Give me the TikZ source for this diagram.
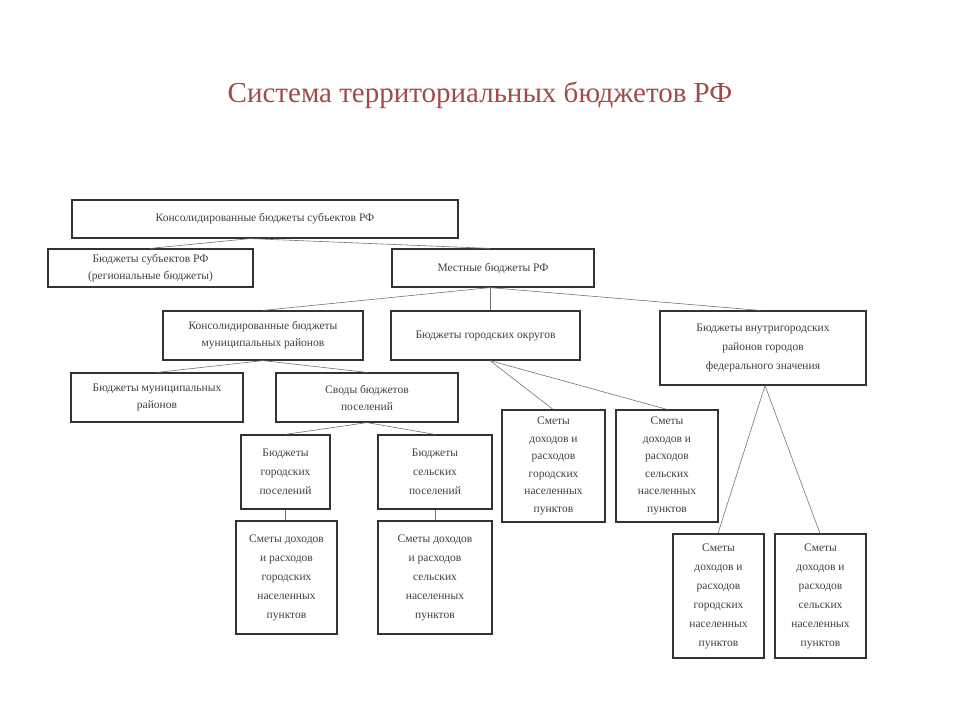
\documentclass[tikz,border=0pt]{standalone}
\usepackage{fontspec}
\setmainfont{Liberation Serif}
\begin{document}
\begin{tikzpicture}[x=1pt,y=-1pt,
bx/.style={draw=black!80,line width=1.2pt,inner sep=0pt,align=center,font=\fontsize{11.5}{17}\selectfont,text=black!75},
tall/.style={font=\fontsize{11.5}{19}\selectfont},
ln/.style={draw=black!55,line width=0.6pt}]
\useasboundingbox (0,0) rectangle (960,720);
\newcommand\bb[7]{\node[bx,#7,minimum width=#4-#2,minimum height=#5-#3] (#1) at ({(#2+#4)/2},{(#3+#5)/2}) {#6};}
\node[font=\fontsize{29}{34}\selectfont,text={rgb,255:red,160;green,75;blue,70}] (t) at (480,95) {Система территориальных бюджетов РФ};
\bb{A}{72}{200}{458}{238}{Консолидированные бюджеты субъектов РФ}{}
\bb{B}{48}{249}{253}{287}{Бюджеты субъектов РФ\\(региональные бюджеты)}{}
\bb{C}{392}{249}{594}{287}{Местные бюджеты РФ}{}
\bb{D}{163}{311}{363}{360}{Консолидированные бюджеты\\муниципальных районов}{}
\bb{E}{391}{311}{580}{360}{Бюджеты городских округов}{}
\bb{F}{660}{311}{866}{385}{Бюджеты внутригородских\\районов городов\\федерального значения}{tall}
\bb{G}{71}{373}{243}{422}{Бюджеты муниципальных\\районов}{}
\bb{H}{276}{373}{458}{422}{Своды бюджетов\\поселений}{}
\bb{I}{241}{435}{330}{509}{Бюджеты\\городских\\поселений}{tall}
\bb{J}{378}{435}{492}{509}{Бюджеты\\сельских\\поселений}{tall}
\bb{K}{236}{521}{337}{634}{Сметы доходов\\и расходов\\городских\\населенных\\пунктов}{tall}
\bb{L}{378}{521}{492}{634}{Сметы доходов\\и расходов\\сельских\\населенных\\пунктов}{tall}
\bb{M}{502}{410}{605}{522}{Сметы\\доходов и\\расходов\\городских\\населенных\\пунктов}{font=\fontsize{11.5}{17.5}\selectfont}
\bb{N}{616}{410}{718}{522}{Сметы\\доходов и\\расходов\\сельских\\населенных\\пунктов}{font=\fontsize{11.5}{17.5}\selectfont}
\bb{O}{673}{534}{764}{658}{Сметы\\доходов и\\расходов\\городских\\населенных\\пунктов}{tall}
\bb{P}{775}{534}{866}{658}{Сметы\\доходов и\\расходов\\сельских\\населенных\\пунктов}{tall}
\coordinate (a) at (A.south -| 250,0); \draw[ln] (a) -- (B.north -| 150,0); \draw[ln] (a) -- (C.north -| 490,0);
\coordinate (c) at (C.south -| 490,0); \draw[ln] (c) -- (D.north -| 263,0); \draw[ln] (c) -- (E.north -| 490,0); \draw[ln] (c) -- (F.north -| 760,0);
\coordinate (d) at (D.south -| 263,0); \draw[ln] (d) -- (G.north -| 157,0); \draw[ln] (d) -- (H.north -| 367,0);
\coordinate (h) at (H.south -| 367,0); \draw[ln] (h) -- (I.north -| 285,0); \draw[ln] (h) -- (J.north -| 435,0);
\coordinate (e) at (E.south -| 490,0); \draw[ln] (e) -- (M.north -| 553,0); \draw[ln] (e) -- (N.north -| 667,0);
\coordinate (f) at (F.south -| 765,0); \draw[ln] (f) -- (O.north -| 718,0); \draw[ln] (f) -- (P.north -| 820,0);
\draw[ln] (I.south -| 285,0) -- (K.north -| 285,0);
\draw[ln] (J.south -| 435,0) -- (L.north -| 435,0);
\end{tikzpicture}
\end{document}
